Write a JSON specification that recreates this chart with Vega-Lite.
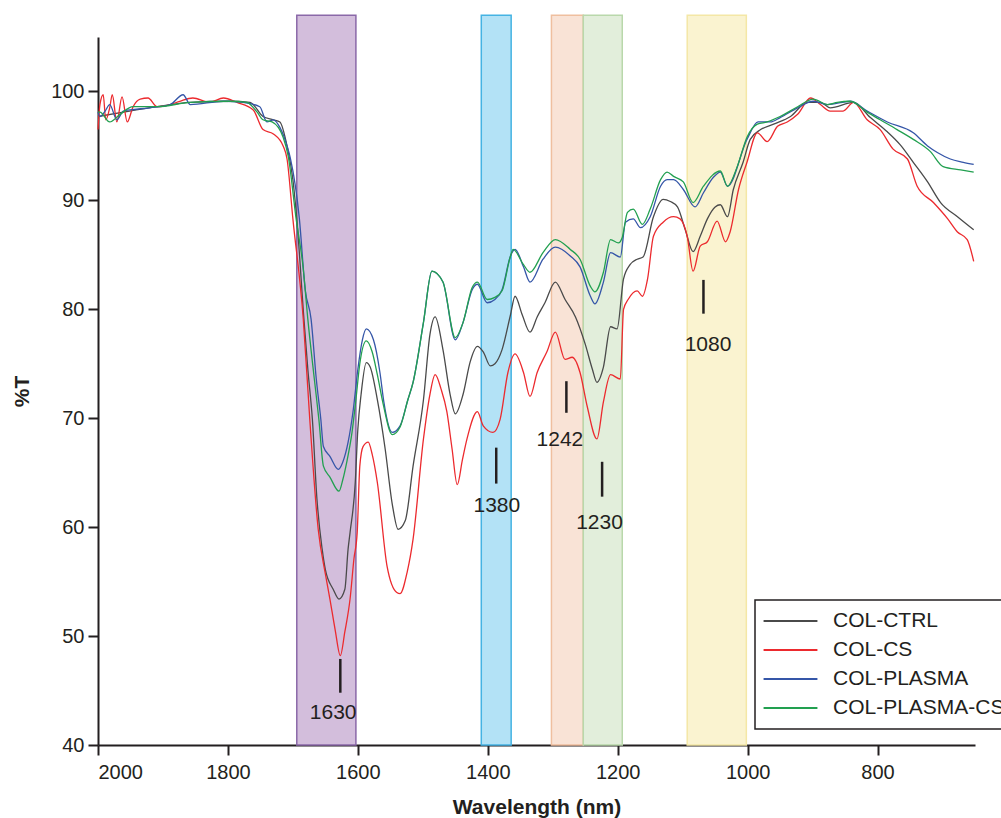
{
  "$schema": "https://vega.github.io/schema/vega-lite/v6.json",
  "width": 877,
  "height": 708,
  "autosize": "none",
  "padding": {"left": 98, "top": 37, "right": 26, "bottom": 73},
  "background": "white",
  "config": {
    "view": {"stroke": null},
    "font": "Liberation Sans",
    "axis": {
      "grid": false,
      "domainColor": "#231f20",
      "domainWidth": 2,
      "tickColor": "#231f20",
      "tickWidth": 2,
      "tickSize": 10,
      "labelColor": "#231f20",
      "labelFont": "Liberation Sans",
      "labelFontSize": 20,
      "titleColor": "#231f20",
      "titleFont": "Liberation Sans",
      "titleFontSize": 21,
      "titleFontWeight": "bold"
    },
    "legend": {
      "orient": "none",
      "legendX": 657,
      "legendY": 563,
      "fillColor": "white",
      "strokeColor": "#231f20",
      "strokeWidth": 1.5,
      "padding": 7,
      "symbolType": "stroke",
      "symbolSize": 2900,
      "symbolStrokeWidth": 2.2,
      "clipHeight": 28,
      "rowPadding": 1,
      "labelFont": "Liberation Sans",
      "labelFontSize": 21,
      "labelColor": "#231f20",
      "labelOffset": 14,
      "labelLimit": 400
    }
  },
  "datasets": {
    "bands": [
      {"band": "a", "x1": 1694, "x2": 1603},
      {"band": "b", "x1": 1410, "x2": 1364},
      {"band": "c", "x1": 1302, "x2": 1253},
      {"band": "d", "x1": 1253, "x2": 1193},
      {"band": "e", "x1": 1093, "x2": 1002}
    ],
    "notes": [
      {"label": "1630", "x": 1627, "y1": 47.9, "y2": 44.8, "lx": 1638, "ly": 42.9},
      {"label": "1380", "x": 1387, "y1": 67.3, "y2": 64.0, "lx": 1386, "ly": 61.9},
      {"label": "1242", "x": 1279, "y1": 73.4, "y2": 70.5, "lx": 1289, "ly": 68.0},
      {"label": "1230", "x": 1224, "y1": 66.0, "y2": 62.8, "lx": 1228, "ly": 60.4},
      {"label": "1080", "x": 1068, "y1": 82.7, "y2": 79.6, "lx": 1061, "ly": 76.7}
    ],
    "spectra": [
      {"s":"COL-CTRL","x":2000,"y":97.7},{"s":"COL-CTRL","x":1961,"y":98.1},{"s":"COL-CTRL","x":1909,"y":98.6},{"s":"COL-CTRL","x":1858,"y":99.0},{"s":"COL-CTRL","x":1797,"y":99.1},{"s":"COL-CTRL","x":1766,"y":99.0},{"s":"COL-CTRL","x":1746,"y":97.7},{"s":"COL-CTRL","x":1730,"y":97.4},{"s":"COL-CTRL","x":1720,"y":97.2},{"s":"COL-CTRL","x":1709,"y":95.0},{"s":"COL-CTRL","x":1700,"y":91.9},{"s":"COL-CTRL","x":1694,"y":88.3},{"s":"COL-CTRL","x":1683,"y":79.1},{"s":"COL-CTRL","x":1677,"y":74.5},{"s":"COL-CTRL","x":1670,"y":69.9},{"s":"COL-CTRL","x":1663,"y":62.6},{"s":"COL-CTRL","x":1655,"y":58.0},{"s":"COL-CTRL","x":1650,"y":56.1},{"s":"COL-CTRL","x":1638,"y":54.3},{"s":"COL-CTRL","x":1629,"y":53.4},{"s":"COL-CTRL","x":1620,"y":54.3},{"s":"COL-CTRL","x":1615,"y":58.0},{"s":"COL-CTRL","x":1612,"y":59.5},{"s":"COL-CTRL","x":1604,"y":64.1},{"s":"COL-CTRL","x":1600,"y":69.0},{"s":"COL-CTRL","x":1595,"y":72.2},{"s":"COL-CTRL","x":1587,"y":75.1},{"s":"COL-CTRL","x":1581,"y":74.7},{"s":"COL-CTRL","x":1570,"y":71.7},{"s":"COL-CTRL","x":1558,"y":67.2},{"s":"COL-CTRL","x":1547,"y":62.1},{"s":"COL-CTRL","x":1538,"y":59.8},{"s":"COL-CTRL","x":1527,"y":60.6},{"s":"COL-CTRL","x":1515,"y":65.6},{"s":"COL-CTRL","x":1499,"y":71.7},{"s":"COL-CTRL","x":1489,"y":77.7},{"s":"COL-CTRL","x":1481,"y":79.3},{"s":"COL-CTRL","x":1469,"y":76.3},{"s":"COL-CTRL","x":1458,"y":72.2},{"s":"COL-CTRL","x":1450,"y":70.4},{"s":"COL-CTRL","x":1438,"y":72.2},{"s":"COL-CTRL","x":1427,"y":75.2},{"s":"COL-CTRL","x":1416,"y":76.6},{"s":"COL-CTRL","x":1407,"y":76.1},{"s":"COL-CTRL","x":1396,"y":74.8},{"s":"COL-CTRL","x":1389,"y":75.0},{"s":"COL-CTRL","x":1378,"y":76.3},{"s":"COL-CTRL","x":1365,"y":79.5},{"s":"COL-CTRL","x":1358,"y":81.2},{"s":"COL-CTRL","x":1347,"y":79.5},{"s":"COL-CTRL","x":1335,"y":77.9},{"s":"COL-CTRL","x":1324,"y":79.3},{"s":"COL-CTRL","x":1312,"y":80.6},{"s":"COL-CTRL","x":1296,"y":82.5},{"s":"COL-CTRL","x":1281,"y":80.9},{"s":"COL-CTRL","x":1265,"y":79.3},{"s":"COL-CTRL","x":1250,"y":76.8},{"s":"COL-CTRL","x":1239,"y":74.5},{"s":"COL-CTRL","x":1232,"y":73.3},{"s":"COL-CTRL","x":1222,"y":74.7},{"s":"COL-CTRL","x":1211,"y":78.4},{"s":"COL-CTRL","x":1201,"y":78.2},{"s":"COL-CTRL","x":1191,"y":82.8},{"s":"COL-CTRL","x":1181,"y":84.1},{"s":"COL-CTRL","x":1170,"y":84.6},{"s":"COL-CTRL","x":1161,"y":84.8},{"s":"COL-CTRL","x":1145,"y":88.5},{"s":"COL-CTRL","x":1130,"y":90.1},{"s":"COL-CTRL","x":1119,"y":89.9},{"s":"COL-CTRL","x":1108,"y":89.4},{"s":"COL-CTRL","x":1096,"y":87.3},{"s":"COL-CTRL","x":1084,"y":85.3},{"s":"COL-CTRL","x":1073,"y":86.7},{"s":"COL-CTRL","x":1062,"y":88.3},{"s":"COL-CTRL","x":1050,"y":89.4},{"s":"COL-CTRL","x":1042,"y":89.6},{"s":"COL-CTRL","x":1031,"y":88.5},{"s":"COL-CTRL","x":1022,"y":91.0},{"s":"COL-CTRL","x":1007,"y":93.5},{"s":"COL-CTRL","x":996,"y":95.6},{"s":"COL-CTRL","x":980,"y":96.5},{"s":"COL-CTRL","x":960,"y":97.0},{"s":"COL-CTRL","x":934,"y":97.7},{"s":"COL-CTRL","x":908,"y":99.0},{"s":"COL-CTRL","x":888,"y":99.0},{"s":"COL-CTRL","x":873,"y":98.5},{"s":"COL-CTRL","x":837,"y":99.0},{"s":"COL-CTRL","x":811,"y":97.6},{"s":"COL-CTRL","x":785,"y":96.3},{"s":"COL-CTRL","x":765,"y":95.1},{"s":"COL-CTRL","x":745,"y":93.5},{"s":"COL-CTRL","x":723,"y":91.7},{"s":"COL-CTRL","x":703,"y":89.8},{"s":"COL-CTRL","x":677,"y":88.5},{"s":"COL-CTRL","x":652,"y":87.3},
      {"s":"COL-CS","x":2000,"y":96.5},{"s":"COL-CS","x":1997,"y":98.8},{"s":"COL-CS","x":1992,"y":99.7},{"s":"COL-CS","x":1988,"y":97.4},{"s":"COL-CS","x":1982,"y":98.5},{"s":"COL-CS","x":1978,"y":99.7},{"s":"COL-CS","x":1971,"y":97.2},{"s":"COL-CS","x":1963,"y":99.5},{"s":"COL-CS","x":1955,"y":97.2},{"s":"COL-CS","x":1946,"y":98.6},{"s":"COL-CS","x":1935,"y":99.3},{"s":"COL-CS","x":1923,"y":99.4},{"s":"COL-CS","x":1909,"y":98.6},{"s":"COL-CS","x":1889,"y":98.8},{"s":"COL-CS","x":1874,"y":99.1},{"s":"COL-CS","x":1854,"y":99.4},{"s":"COL-CS","x":1828,"y":99.0},{"s":"COL-CS","x":1807,"y":99.4},{"s":"COL-CS","x":1786,"y":99.0},{"s":"COL-CS","x":1761,"y":98.3},{"s":"COL-CS","x":1746,"y":96.5},{"s":"COL-CS","x":1730,"y":96.1},{"s":"COL-CS","x":1715,"y":95.0},{"s":"COL-CS","x":1709,"y":93.8},{"s":"COL-CS","x":1700,"y":88.3},{"s":"COL-CS","x":1684,"y":79.1},{"s":"COL-CS","x":1674,"y":69.9},{"s":"COL-CS","x":1661,"y":59.8},{"s":"COL-CS","x":1650,"y":55.7},{"s":"COL-CS","x":1643,"y":53.4},{"s":"COL-CS","x":1635,"y":50.6},{"s":"COL-CS","x":1627,"y":48.2},{"s":"COL-CS","x":1620,"y":50.4},{"s":"COL-CS","x":1612,"y":53.4},{"s":"COL-CS","x":1606,"y":57.1},{"s":"COL-CS","x":1601,"y":59.5},{"s":"COL-CS","x":1597,"y":65.6},{"s":"COL-CS","x":1592,"y":67.4},{"s":"COL-CS","x":1584,"y":67.8},{"s":"COL-CS","x":1578,"y":66.7},{"s":"COL-CS","x":1570,"y":64.1},{"s":"COL-CS","x":1555,"y":56.4},{"s":"COL-CS","x":1540,"y":54.0},{"s":"COL-CS","x":1535,"y":53.9},{"s":"COL-CS","x":1524,"y":55.9},{"s":"COL-CS","x":1515,"y":58.9},{"s":"COL-CS","x":1499,"y":68.1},{"s":"COL-CS","x":1489,"y":72.2},{"s":"COL-CS","x":1481,"y":74.0},{"s":"COL-CS","x":1472,"y":72.7},{"s":"COL-CS","x":1463,"y":70.6},{"s":"COL-CS","x":1455,"y":67.2},{"s":"COL-CS","x":1447,"y":63.9},{"s":"COL-CS","x":1439,"y":66.2},{"s":"COL-CS","x":1432,"y":68.1},{"s":"COL-CS","x":1416,"y":70.6},{"s":"COL-CS","x":1407,"y":69.3},{"s":"COL-CS","x":1392,"y":68.7},{"s":"COL-CS","x":1381,"y":69.9},{"s":"COL-CS","x":1369,"y":74.2},{"s":"COL-CS","x":1358,"y":75.9},{"s":"COL-CS","x":1345,"y":74.2},{"s":"COL-CS","x":1335,"y":72.0},{"s":"COL-CS","x":1324,"y":74.2},{"s":"COL-CS","x":1309,"y":76.1},{"s":"COL-CS","x":1296,"y":77.9},{"s":"COL-CS","x":1281,"y":75.4},{"s":"COL-CS","x":1270,"y":75.6},{"s":"COL-CS","x":1258,"y":74.2},{"s":"COL-CS","x":1247,"y":71.1},{"s":"COL-CS","x":1232,"y":68.1},{"s":"COL-CS","x":1222,"y":71.5},{"s":"COL-CS","x":1211,"y":74.0},{"s":"COL-CS","x":1196,"y":73.6},{"s":"COL-CS","x":1191,"y":80.0},{"s":"COL-CS","x":1184,"y":80.9},{"s":"COL-CS","x":1170,"y":81.7},{"s":"COL-CS","x":1162,"y":81.2},{"s":"COL-CS","x":1154,"y":82.8},{"s":"COL-CS","x":1145,"y":86.7},{"s":"COL-CS","x":1130,"y":88.0},{"s":"COL-CS","x":1114,"y":88.5},{"s":"COL-CS","x":1104,"y":88.3},{"s":"COL-CS","x":1093,"y":86.7},{"s":"COL-CS","x":1084,"y":83.5},{"s":"COL-CS","x":1073,"y":85.8},{"s":"COL-CS","x":1062,"y":86.2},{"s":"COL-CS","x":1047,"y":88.1},{"s":"COL-CS","x":1034,"y":86.2},{"s":"COL-CS","x":1027,"y":87.1},{"s":"COL-CS","x":1014,"y":91.0},{"s":"COL-CS","x":1001,"y":93.5},{"s":"COL-CS","x":985,"y":96.2},{"s":"COL-CS","x":970,"y":95.4},{"s":"COL-CS","x":954,"y":96.8},{"s":"COL-CS","x":939,"y":97.2},{"s":"COL-CS","x":923,"y":97.9},{"s":"COL-CS","x":903,"y":99.4},{"s":"COL-CS","x":888,"y":98.8},{"s":"COL-CS","x":873,"y":98.2},{"s":"COL-CS","x":853,"y":98.2},{"s":"COL-CS","x":837,"y":99.0},{"s":"COL-CS","x":816,"y":97.4},{"s":"COL-CS","x":796,"y":96.5},{"s":"COL-CS","x":776,"y":94.7},{"s":"COL-CS","x":754,"y":93.8},{"s":"COL-CS","x":739,"y":91.3},{"s":"COL-CS","x":714,"y":89.8},{"s":"COL-CS","x":692,"y":88.3},{"s":"COL-CS","x":677,"y":87.1},{"s":"COL-CS","x":662,"y":86.4},{"s":"COL-CS","x":652,"y":84.4},
      {"s":"COL-PLASMA","x":2000,"y":98.1},{"s":"COL-PLASMA","x":1997,"y":97.7},{"s":"COL-PLASMA","x":1989,"y":98.2},{"s":"COL-PLASMA","x":1982,"y":98.8},{"s":"COL-PLASMA","x":1971,"y":97.4},{"s":"COL-PLASMA","x":1961,"y":98.2},{"s":"COL-PLASMA","x":1951,"y":98.3},{"s":"COL-PLASMA","x":1920,"y":98.5},{"s":"COL-PLASMA","x":1889,"y":98.8},{"s":"COL-PLASMA","x":1869,"y":99.7},{"s":"COL-PLASMA","x":1858,"y":98.8},{"s":"COL-PLASMA","x":1807,"y":99.1},{"s":"COL-PLASMA","x":1777,"y":99.0},{"s":"COL-PLASMA","x":1751,"y":98.6},{"s":"COL-PLASMA","x":1740,"y":97.2},{"s":"COL-PLASMA","x":1730,"y":97.4},{"s":"COL-PLASMA","x":1720,"y":96.7},{"s":"COL-PLASMA","x":1709,"y":95.0},{"s":"COL-PLASMA","x":1704,"y":93.9},{"s":"COL-PLASMA","x":1690,"y":88.3},{"s":"COL-PLASMA","x":1681,"y":81.8},{"s":"COL-PLASMA","x":1672,"y":79.1},{"s":"COL-PLASMA","x":1664,"y":73.6},{"s":"COL-PLASMA","x":1657,"y":69.9},{"s":"COL-PLASMA","x":1653,"y":67.4},{"s":"COL-PLASMA","x":1643,"y":66.5},{"s":"COL-PLASMA","x":1630,"y":65.3},{"s":"COL-PLASMA","x":1623,"y":66.0},{"s":"COL-PLASMA","x":1615,"y":67.8},{"s":"COL-PLASMA","x":1607,"y":70.8},{"s":"COL-PLASMA","x":1600,"y":74.5},{"s":"COL-PLASMA","x":1593,"y":77.2},{"s":"COL-PLASMA","x":1587,"y":78.2},{"s":"COL-PLASMA","x":1576,"y":77.2},{"s":"COL-PLASMA","x":1566,"y":74.2},{"s":"COL-PLASMA","x":1560,"y":71.5},{"s":"COL-PLASMA","x":1547,"y":68.7},{"s":"COL-PLASMA","x":1535,"y":69.3},{"s":"COL-PLASMA","x":1523,"y":71.7},{"s":"COL-PLASMA","x":1515,"y":73.3},{"s":"COL-PLASMA","x":1499,"y":78.8},{"s":"COL-PLASMA","x":1486,"y":83.5},{"s":"COL-PLASMA","x":1469,"y":82.5},{"s":"COL-PLASMA","x":1450,"y":77.2},{"s":"COL-PLASMA","x":1438,"y":78.8},{"s":"COL-PLASMA","x":1424,"y":81.8},{"s":"COL-PLASMA","x":1416,"y":82.3},{"s":"COL-PLASMA","x":1401,"y":80.6},{"s":"COL-PLASMA","x":1389,"y":80.9},{"s":"COL-PLASMA","x":1378,"y":81.8},{"s":"COL-PLASMA","x":1365,"y":84.9},{"s":"COL-PLASMA","x":1358,"y":85.5},{"s":"COL-PLASMA","x":1345,"y":83.9},{"s":"COL-PLASMA","x":1335,"y":82.5},{"s":"COL-PLASMA","x":1315,"y":84.6},{"s":"COL-PLASMA","x":1296,"y":85.7},{"s":"COL-PLASMA","x":1273,"y":84.9},{"s":"COL-PLASMA","x":1258,"y":83.9},{"s":"COL-PLASMA","x":1242,"y":81.2},{"s":"COL-PLASMA","x":1235,"y":80.5},{"s":"COL-PLASMA","x":1222,"y":82.5},{"s":"COL-PLASMA","x":1211,"y":85.2},{"s":"COL-PLASMA","x":1196,"y":84.8},{"s":"COL-PLASMA","x":1188,"y":88.0},{"s":"COL-PLASMA","x":1176,"y":88.3},{"s":"COL-PLASMA","x":1165,"y":87.5},{"s":"COL-PLASMA","x":1150,"y":88.5},{"s":"COL-PLASMA","x":1134,"y":91.3},{"s":"COL-PLASMA","x":1124,"y":91.9},{"s":"COL-PLASMA","x":1114,"y":91.9},{"s":"COL-PLASMA","x":1099,"y":91.0},{"s":"COL-PLASMA","x":1081,"y":89.4},{"s":"COL-PLASMA","x":1068,"y":90.7},{"s":"COL-PLASMA","x":1053,"y":92.1},{"s":"COL-PLASMA","x":1042,"y":92.6},{"s":"COL-PLASMA","x":1031,"y":91.3},{"s":"COL-PLASMA","x":1001,"y":95.6},{"s":"COL-PLASMA","x":984,"y":97.2},{"s":"COL-PLASMA","x":965,"y":97.2},{"s":"COL-PLASMA","x":950,"y":97.6},{"s":"COL-PLASMA","x":923,"y":98.5},{"s":"COL-PLASMA","x":899,"y":99.1},{"s":"COL-PLASMA","x":877,"y":98.8},{"s":"COL-PLASMA","x":842,"y":99.1},{"s":"COL-PLASMA","x":816,"y":98.2},{"s":"COL-PLASMA","x":785,"y":97.2},{"s":"COL-PLASMA","x":745,"y":96.2},{"s":"COL-PLASMA","x":723,"y":95.0},{"s":"COL-PLASMA","x":708,"y":94.4},{"s":"COL-PLASMA","x":688,"y":93.8},{"s":"COL-PLASMA","x":668,"y":93.5},{"s":"COL-PLASMA","x":652,"y":93.3},
      {"s":"COL-PLASMA-CS","x":2000,"y":98.1},{"s":"COL-PLASMA-CS","x":1997,"y":98.1},{"s":"COL-PLASMA-CS","x":1982,"y":97.2},{"s":"COL-PLASMA-CS","x":1966,"y":97.9},{"s":"COL-PLASMA-CS","x":1946,"y":98.6},{"s":"COL-PLASMA-CS","x":1909,"y":98.6},{"s":"COL-PLASMA-CS","x":1858,"y":99.0},{"s":"COL-PLASMA-CS","x":1797,"y":99.1},{"s":"COL-PLASMA-CS","x":1771,"y":99.0},{"s":"COL-PLASMA-CS","x":1755,"y":98.1},{"s":"COL-PLASMA-CS","x":1746,"y":97.4},{"s":"COL-PLASMA-CS","x":1732,"y":97.2},{"s":"COL-PLASMA-CS","x":1715,"y":95.8},{"s":"COL-PLASMA-CS","x":1707,"y":94.0},{"s":"COL-PLASMA-CS","x":1695,"y":88.3},{"s":"COL-PLASMA-CS","x":1684,"y":83.7},{"s":"COL-PLASMA-CS","x":1677,"y":79.1},{"s":"COL-PLASMA-CS","x":1667,"y":73.6},{"s":"COL-PLASMA-CS","x":1660,"y":69.9},{"s":"COL-PLASMA-CS","x":1653,"y":65.6},{"s":"COL-PLASMA-CS","x":1643,"y":64.6},{"s":"COL-PLASMA-CS","x":1629,"y":63.3},{"s":"COL-PLASMA-CS","x":1623,"y":64.4},{"s":"COL-PLASMA-CS","x":1617,"y":66.0},{"s":"COL-PLASMA-CS","x":1609,"y":68.7},{"s":"COL-PLASMA-CS","x":1603,"y":71.7},{"s":"COL-PLASMA-CS","x":1597,"y":75.0},{"s":"COL-PLASMA-CS","x":1587,"y":77.1},{"s":"COL-PLASMA-CS","x":1578,"y":76.1},{"s":"COL-PLASMA-CS","x":1570,"y":74.0},{"s":"COL-PLASMA-CS","x":1561,"y":71.3},{"s":"COL-PLASMA-CS","x":1547,"y":68.5},{"s":"COL-PLASMA-CS","x":1535,"y":69.2},{"s":"COL-PLASMA-CS","x":1523,"y":71.7},{"s":"COL-PLASMA-CS","x":1515,"y":73.3},{"s":"COL-PLASMA-CS","x":1499,"y":78.8},{"s":"COL-PLASMA-CS","x":1486,"y":83.5},{"s":"COL-PLASMA-CS","x":1469,"y":82.5},{"s":"COL-PLASMA-CS","x":1450,"y":77.4},{"s":"COL-PLASMA-CS","x":1438,"y":78.8},{"s":"COL-PLASMA-CS","x":1424,"y":82.0},{"s":"COL-PLASMA-CS","x":1416,"y":82.5},{"s":"COL-PLASMA-CS","x":1401,"y":80.9},{"s":"COL-PLASMA-CS","x":1389,"y":81.1},{"s":"COL-PLASMA-CS","x":1378,"y":81.7},{"s":"COL-PLASMA-CS","x":1365,"y":84.9},{"s":"COL-PLASMA-CS","x":1361,"y":85.5},{"s":"COL-PLASMA-CS","x":1345,"y":84.1},{"s":"COL-PLASMA-CS","x":1335,"y":83.4},{"s":"COL-PLASMA-CS","x":1315,"y":85.2},{"s":"COL-PLASMA-CS","x":1296,"y":86.4},{"s":"COL-PLASMA-CS","x":1273,"y":85.5},{"s":"COL-PLASMA-CS","x":1258,"y":84.6},{"s":"COL-PLASMA-CS","x":1242,"y":82.1},{"s":"COL-PLASMA-CS","x":1235,"y":81.6},{"s":"COL-PLASMA-CS","x":1222,"y":83.4},{"s":"COL-PLASMA-CS","x":1211,"y":86.4},{"s":"COL-PLASMA-CS","x":1199,"y":86.1},{"s":"COL-PLASMA-CS","x":1193,"y":86.6},{"s":"COL-PLASMA-CS","x":1185,"y":88.9},{"s":"COL-PLASMA-CS","x":1176,"y":89.2},{"s":"COL-PLASMA-CS","x":1162,"y":87.8},{"s":"COL-PLASMA-CS","x":1150,"y":89.2},{"s":"COL-PLASMA-CS","x":1134,"y":91.9},{"s":"COL-PLASMA-CS","x":1124,"y":92.6},{"s":"COL-PLASMA-CS","x":1114,"y":92.2},{"s":"COL-PLASMA-CS","x":1099,"y":91.7},{"s":"COL-PLASMA-CS","x":1084,"y":89.8},{"s":"COL-PLASMA-CS","x":1068,"y":91.3},{"s":"COL-PLASMA-CS","x":1042,"y":92.7},{"s":"COL-PLASMA-CS","x":1031,"y":91.3},{"s":"COL-PLASMA-CS","x":1016,"y":93.1},{"s":"COL-PLASMA-CS","x":1001,"y":95.8},{"s":"COL-PLASMA-CS","x":985,"y":97.0},{"s":"COL-PLASMA-CS","x":970,"y":97.2},{"s":"COL-PLASMA-CS","x":950,"y":97.7},{"s":"COL-PLASMA-CS","x":923,"y":98.6},{"s":"COL-PLASMA-CS","x":899,"y":99.3},{"s":"COL-PLASMA-CS","x":877,"y":98.8},{"s":"COL-PLASMA-CS","x":862,"y":99.0},{"s":"COL-PLASMA-CS","x":842,"y":99.1},{"s":"COL-PLASMA-CS","x":816,"y":98.1},{"s":"COL-PLASMA-CS","x":796,"y":97.4},{"s":"COL-PLASMA-CS","x":770,"y":96.5},{"s":"COL-PLASMA-CS","x":745,"y":95.6},{"s":"COL-PLASMA-CS","x":719,"y":94.5},{"s":"COL-PLASMA-CS","x":699,"y":93.1},{"s":"COL-PLASMA-CS","x":672,"y":92.8},{"s":"COL-PLASMA-CS","x":652,"y":92.6}
    ]
  },
  "layer": [
    {
      "data": {"name": "bands"},
      "mark": {"type": "rect", "strokeWidth": 1.5},
      "encoding": {
        "x": {"field": "x1", "type": "quantitative", "scale": {"domain": [650, 2000], "reverse": true, "nice": false, "zero": false},
              "axis": {"values": [2000, 1800, 1600, 1400, 1200, 1000, 800], "format": "d", "title": "Wavelength (nm)", "labelPadding": 7, "titlePadding": 14}},
        "x2": {"field": "x2"},
        "y": {"datum": 40, "type": "quantitative", "scale": {"domain": [40, 105], "nice": false, "zero": false},
              "axis": {"values": [40, 50, 60, 70, 80, 90, 100], "format": "d", "title": "%T", "labelPadding": 4, "titlePadding": 18}},
        "y2": {"datum": 107},
        "fill": {"field": "band", "type": "nominal", "legend": null,
                 "scale": {"domain": ["a", "b", "c", "d", "e"], "range": ["#d3bedc", "#b3e2f6", "#f9e3d6", "#e2eedb", "#faf3d0"]}},
        "stroke": {"field": "band", "type": "nominal", "legend": null,
                   "scale": {"domain": ["a", "b", "c", "d", "e"], "range": ["#8a68a8", "#45b3e3", "#efbf9f", "#b9d8ab", "#f4e7a6"]}}
      }
    },
    {
      "data": {"name": "spectra"},
      "mark": {"type": "line", "strokeWidth": 1.3, "interpolate": "monotone"},
      "encoding": {
        "x": {"field": "x", "type": "quantitative"},
        "y": {"field": "y", "type": "quantitative"},
        "color": {"field": "s", "type": "nominal", "title": null,
                  "scale": {"domain": ["COL-CTRL", "COL-CS", "COL-PLASMA", "COL-PLASMA-CS"], "range": ["#4a4a4a", "#ec2a2e", "#3556a8", "#22a050"]},
                  "legend": {"title": null}}
      }
    },
    {
      "data": {"name": "notes"},
      "mark": {"type": "rule", "strokeWidth": 2.5, "color": "#231f20"},
      "encoding": {
        "x": {"field": "x", "type": "quantitative"},
        "y": {"field": "y1", "type": "quantitative"},
        "y2": {"field": "y2"}
      }
    },
    {
      "data": {"name": "notes"},
      "mark": {"type": "text", "fontSize": 21, "font": "Liberation Sans", "color": "#231f20", "align": "center", "baseline": "middle"},
      "encoding": {
        "x": {"field": "lx", "type": "quantitative"},
        "y": {"field": "ly", "type": "quantitative"},
        "text": {"field": "label"}
      }
    }
  ]
}
